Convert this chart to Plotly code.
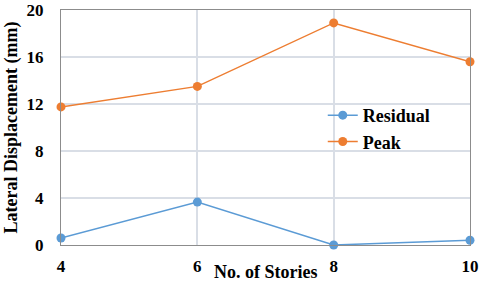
import plotly.graph_objects as go

stories = [4, 6, 8, 10]
residual = [0.6, 3.65, 0.0, 0.4]
peak = [11.75, 13.5, 18.9, 15.6]
y_ticks = [0, 4, 8, 12, 16, 20]
x_ticks = [4, 6, 8, 10]

FONT = "Liberation Serif"
BLUE = "#5B9BD5"
ORANGE = "#ED7D31"
GRID = "#D9DEE6"

fig = go.Figure()
fig.add_trace(go.Scatter(x=stories, y=residual, name="<b>Residual</b>", mode="lines+markers",
                         line=dict(color=BLUE, width=1.5), marker=dict(color=BLUE, size=9), cliponaxis=False))
fig.add_trace(go.Scatter(x=stories, y=peak, name="<b>Peak</b>", mode="lines+markers",
                         line=dict(color=ORANGE, width=1.5), marker=dict(color=ORANGE, size=9), cliponaxis=False))

fig.update_layout(
    width=480, height=284,
    margin=dict(l=61, r=10, t=10, b=39, autoexpand=False),
    paper_bgcolor="white", plot_bgcolor="white",
    font=dict(family=FONT, size=17, color="black"),
    showlegend=True,
    legend=dict(x=0.64, y=0.63, xanchor="left", yanchor="top", bgcolor="rgba(0,0,0,0)",
                font=dict(family=FONT, size=18, color="black"), tracegroupgap=0, itemwidth=30),
    xaxis=dict(range=[4, 10], tickvals=x_ticks, ticktext=[f"<b>{v}</b>" for v in x_ticks],
               showgrid=True, gridcolor=GRID, gridwidth=1.5, zeroline=False, automargin=False,
               showline=True, linecolor="#8C8C8C", linewidth=1, mirror=True,
               ticks="outside", ticklen=6, tickcolor="rgba(0,0,0,0)",
               tickfont=dict(family=FONT, size=17)),
    yaxis=dict(range=[0, 20], tickvals=y_ticks, ticktext=[f"<b>{v}</b>" for v in y_ticks],
               showgrid=True, gridcolor=GRID, gridwidth=1.5, zeroline=False, automargin=False,
               showline=True, linecolor="#8C8C8C", linewidth=1, mirror=True,
               ticks="outside", ticklen=13, tickcolor="rgba(0,0,0,0)",
               tickfont=dict(family=FONT, size=17)),
    annotations=[
        dict(text="<b>No. of Stories</b>", xref="paper", yref="paper", x=0.5, y=-39/235,
             xanchor="center", yanchor="bottom", showarrow=False,
             font=dict(family=FONT, size=18, color="black")),
        dict(text="<b>Lateral Displacement (mm)</b>", xref="paper", yref="paper", x=-50/409, y=0.5,
             xanchor="center", yanchor="middle", textangle=-90, showarrow=False,
             font=dict(family=FONT, size=18, color="black")),
    ],
)

fig.write_html("out.html", config={"displayModeBar": False},
               post_script="document.body.style.margin='0';document.body.style.overflow='hidden';")
